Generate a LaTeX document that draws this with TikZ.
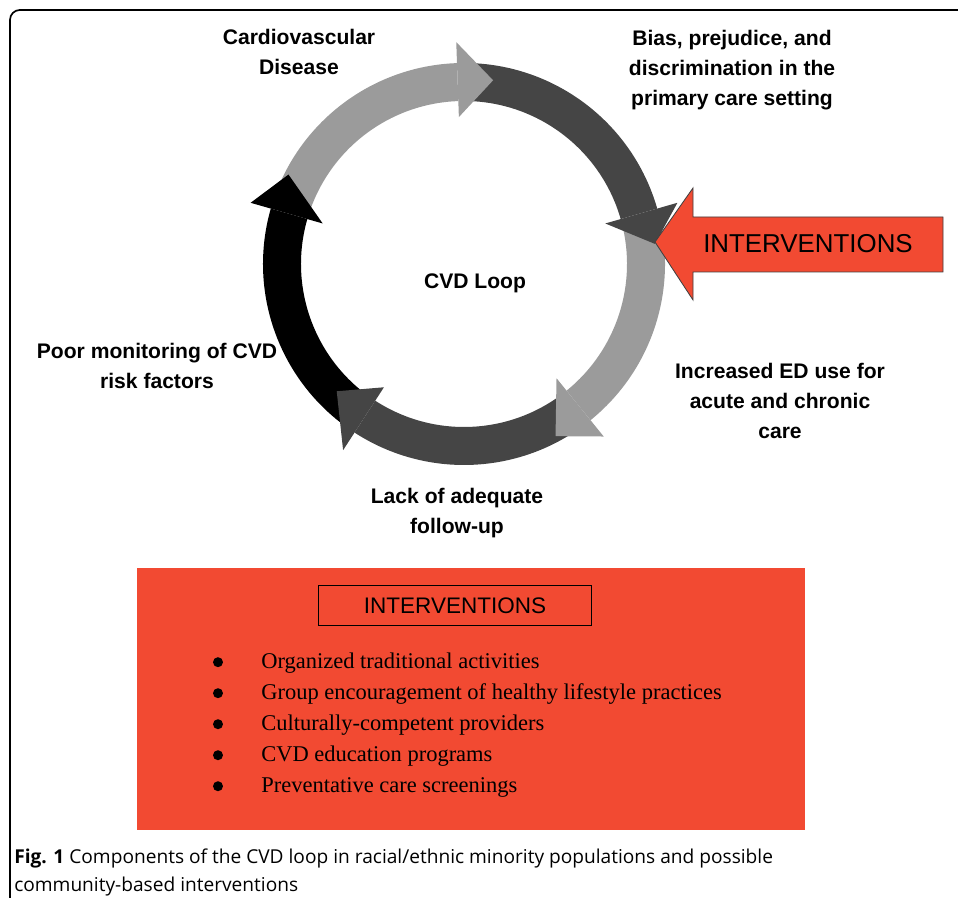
\documentclass[tikz,border=0pt]{standalone}
\usepackage{fontspec}
\setmainfont{Liberation Serif}
\newfontfamily\labelfont{Liberation Sans}
\newfontfamily\capfont{Open Sans}
\usetikzlibrary{positioning}
\definecolor{ringlight}{HTML}{9B9B9B}
\definecolor{ringdark}{HTML}{454545}
\definecolor{ivred}{HTML}{F24A32}
\newcommand{\cvdbody}[3]{\fill[#1] (#2:201) arc[start angle=#2, end angle=#3, radius=201] -- (#3:163) arc[start angle=#3, end angle=#2, radius=163] -- cycle;}
\newcommand{\cvdhead}[4]{\fill[#1] (#2:147) -- (#3:#4) -- (#2:222) -- cycle;}
\tikzset{
    stage/.style={font=\labelfont\bfseries\fontsize{15}{21.3}\selectfont, align=center, inner sep=0pt},
    ivtext/.style={font=\labelfont\fontsize{18.4}{22}\selectfont, inner sep=0pt},
    panel/.style={fill=ivred, minimum width=16.7cm, minimum height=6.55cm, inner sep=0pt},
    headbox/.style={draw, line width=1pt, minimum width=6.825cm, minimum height=1cm, anchor=north,
        font=\labelfont\fontsize{16}{19}\selectfont},
    item/.style={font=\fontsize{16}{19}\selectfont, anchor=west, inner sep=0pt, text height=1.6ex, text depth=.5ex},
    dot/.style={circle, fill=black, minimum size=0.25cm, inner sep=0pt, yshift=0.07cm},
    caption/.style={font=\capfont\fontsize{13.6}{19.9}\selectfont, align=left, inner sep=0pt, anchor=west, text=black}
}
\begin{document}
\begin{tikzpicture}[x=0.025cm, y=0.025cm]
    \useasboundingbox (0,0) rectangle (958,898);
    % frame
    \draw[line width=1.2pt, rounded corners=7] (10,0) |- (958,888);

    % the loop
    \begin{scope}[shift={(464,634)}]
        \cvdbody{ringlight}{163}{92}
        \cvdbody{ringdark}{91}{16}
        \cvdbody{ringlight}{15}{-51}
        \cvdbody{ringdark}{-52}{-123}
        \cvdbody{black}{-124}{-196}
        \cvdhead{ringlight}{92}{81}{186}
        \cvdhead{ringdark}{16}{6}{192}
        \cvdhead{ringlight}{-51}{-62}{195}
        \cvdhead{ringdark}{-123}{-135}{180}
        \cvdhead{black}{-196}{-207}{197}
    \end{scope}

    \node [stage] (cvd) at (299,846) {Cardiovascular\\Disease};
    \node [stage] (bias) at (732,828) {Bias, prejudice, and\\discrimination in the\\primary care setting};
    \node [stage] (loop) at (475,615) {CVD Loop};
    \node [stage] (poor) at (157,532) {Poor monitoring of CVD\\risk factors};
    \node [stage] (ed) at (780,497) {Increased ED use for\\acute and chronic\\care};
    \node [stage] (lack) at (457,385) {Lack of adequate\\follow-up};

    % interventions arrow
    \draw [fill=ivred, draw=black!75, line width=0.6pt]
        (655,656) -- (693,710) -- (693,681) -- (943,681) -- (943,626) -- (693,626) -- (693,598) -- cycle;
    \node [ivtext] (ivarrow) at (808,654) {INTERVENTIONS};

    % interventions panel
    \node [panel] (panel) at (471,199) {};
    \node [headbox, below=0.425cm of panel.north, xshift=-0.4cm] (head) {INTERVENTIONS};

    \node [item] (o1) at (261,233) {Organized traditional activities};
    \node [item, below=0.775cm of o1.west, anchor=west] (o2) {Group encouragement of healthy lifestyle practices};
    \node [item, below=0.775cm of o2.west, anchor=west] (o3) {Culturally-competent providers};
    \node [item, below=0.775cm of o3.west, anchor=west] (o4) {CVD education programs};
    \node [item, below=0.775cm of o4.west, anchor=west] (o5) {Preventative care screenings};

    \node [dot, left=1.075cm of o1.west, anchor=center] (d1) {};
    \node [dot, left=1.075cm of o2.west, anchor=center] (d2) {};
    \node [dot, left=1.075cm of o3.west, anchor=center] (d3) {};
    \node [dot, left=1.075cm of o4.west, anchor=center] (d4) {};
    \node [dot, left=1.075cm of o5.west, anchor=center] (d5) {};

    \node [caption] (cap) at (14,26) {\textbf{Fig. 1} Components of the CVD loop in racial/ethnic minority populations and possible\\community-based interventions};
\end{tikzpicture}
\end{document}
